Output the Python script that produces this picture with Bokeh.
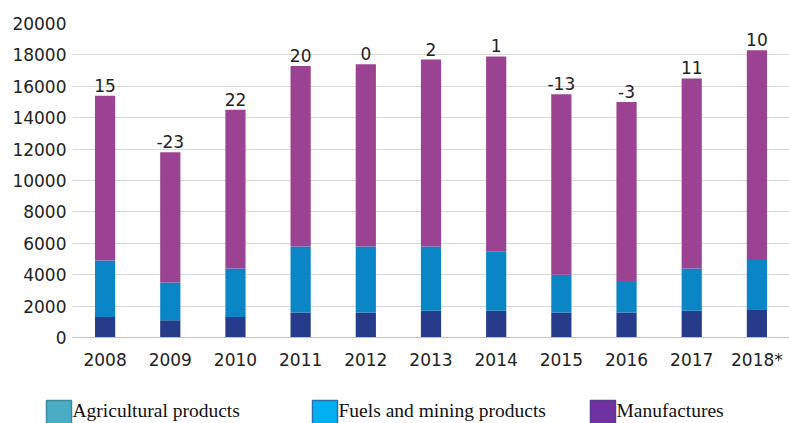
from bokeh.plotting import figure
from bokeh.models import ColumnDataSource, FactorRange, Range1d, FixedTicker
from bokeh.layouts import column
from bokeh.core.properties import value
from bokeh.embed import file_html
from bokeh.resources import INLINE

years = ["2008", "2009", "2010", "2011", "2012", "2013", "2014", "2015", "2016", "2017", "2018*"]
agricultural = [1300, 1100, 1300, 1600, 1600, 1700, 1700, 1600, 1600, 1700, 1800]
fuels = [3600, 2400, 3100, 4200, 4200, 4100, 3800, 2400, 2000, 2700, 3200]
manufactures = [10500, 8300, 10100, 11500, 11600, 11900, 12400, 11500, 11400, 12100, 13300]
growth_labels = ["15", "-23", "22", "20", "0", "2", "1", "-13", "-3", "11", "10"]
y_ticks = [0, 2000, 4000, 6000, 8000, 10000, 12000, 14000, 16000, 18000, 20000]
legend_labels = ["Agricultural products", "Fuels and mining products", "Manufactures"]

bar_colors = ["#263B8A", "#0A86C6", "#9B4392"]
legend_fill = ["#4BACC6", "#00B0F0", "#7030A0"]
legend_border = ["#3A8AA0", "#2A6FB0", "#5A3A90"]

totals = [a + f + m for a, f, m in zip(agricultural, fuels, manufactures)]

src = ColumnDataSource(dict(years=years, agri=agricultural, fuels=fuels, manuf=manufactures,
                            total=totals, lab=growth_labels))

p = figure(x_range=FactorRange(*years, range_padding=0), y_range=Range1d(0, 20000),
           width=789, height=395, output_backend="svg", toolbar_location=None,
           min_border_left=72, min_border_right=0, min_border_top=23, min_border_bottom=58)
p.outline_line_color = None
p.background_fill_color = "white"
p.frame_align = False

p.vbar_stack(["agri", "fuels", "manuf"], x="years", width=0.31, source=src,
             color=bar_colors, line_color=None)

p.text(x="years", y="total", text="lab", source=src, text_align="center",
       text_baseline="bottom", y_offset=-4, text_font=value("DejaVu Sans"),
       text_font_size="17px", text_color="#222222")

p.yaxis.ticker = FixedTicker(ticks=y_ticks)
p.yaxis.axis_line_color = None
p.yaxis.major_tick_line_color = None
p.yaxis.minor_tick_line_color = None
p.yaxis.major_tick_out = 0
p.yaxis.major_label_standoff = 6
p.yaxis.major_label_text_font = "DejaVu Sans"
p.yaxis.major_label_text_font_size = "17px"
p.yaxis.major_label_text_color = "#222222"

p.xaxis.axis_line_color = "#BFBFBF"
p.xaxis.major_tick_line_color = None
p.xaxis.major_tick_out = 0
p.xaxis.major_label_standoff = 12
p.xaxis.major_label_text_font = "DejaVu Sans"
p.xaxis.major_label_text_font_size = "17px"
p.xaxis.major_label_text_color = "#222222"

p.xgrid.grid_line_color = None
p.ygrid.grid_line_color = "#D9D9D9"
p.ygrid.ticker = FixedTicker(ticks=y_ticks)

# legend strip
lg = figure(x_range=Range1d(0, 789), y_range=Range1d(0, 28), width=789, height=28,
            output_backend="svg", toolbar_location=None,
            min_border_left=0, min_border_right=0, min_border_top=0, min_border_bottom=0)
lg.frame_align = False
lg.outline_line_color = None
lg.axis.visible = False
lg.grid.visible = False
sq_left = [46, 312, 590]
lsrc = ColumnDataSource(dict(l=sq_left, r=[x + 25 for x in sq_left], b=[-5] * 3, t=[23] * 3,
                             fill=legend_fill, line=legend_border,
                             tx=[x + 26 for x in sq_left], ty=[13] * 3, lab=legend_labels))
lg.quad(left="l", right="r", bottom="b", top="t", fill_color="fill", line_color="line",
        line_width=1.5, source=lsrc)
lg.text(x="tx", y="ty", text="lab", source=lsrc, text_font=value("Liberation Serif"),
        text_font_size="19.5px", text_baseline="alphabetic", text_color="#111111")

layout = column(p, lg, spacing=0)
open("out.html", "w").write(file_html(layout, INLINE))
